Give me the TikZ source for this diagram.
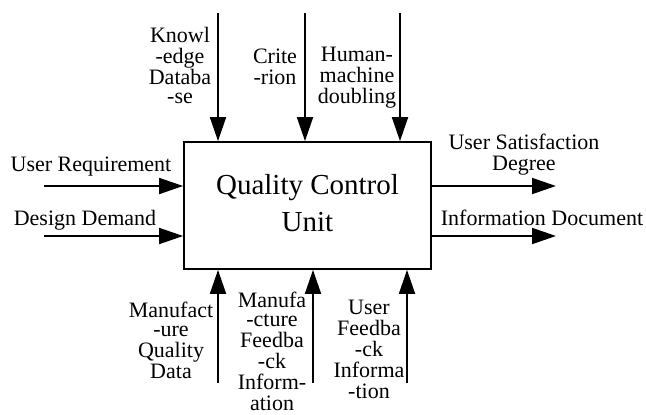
\documentclass[tikz,border=0pt]{standalone}
\usepackage{fontspec}
\setmainfont{Liberation Serif}
\usetikzlibrary{arrows.meta}

% stacked, centred lines; the node's baseline is the last line's baseline
\newcommand\stacklines[1]{\begin{tabular}[b]{@{}c@{}}#1\end{tabular}}

\tikzset{
  flow/.style={line width=1.8pt, -{Triangle[length=24pt,width=16pt]}},
  unitbox/.style={draw, line width=1.8pt, minimum width=247pt, minimum height=127pt,
    inner sep=0pt, font=\fontsize{29}{37}\selectfont},
  lbl/.style={inner sep=0pt, anchor=base, font=\fontsize{22}{19}\selectfont},
}

\begin{document}
\begin{tikzpicture}[x=1pt,y=-1pt]
\useasboundingbox (0,0) rectangle (646,415);

% central function box
\node[unitbox] (qcu) at (307.5,205.5)
  {\begin{tabular}{@{}c@{}}Quality Control\\Unit\end{tabular}};

% free ends of the connectors
\coordinate (inA)  at (44,186);
\coordinate (inB)  at (44,236);
\coordinate (outA) at (556,186);
\coordinate (outB) at (556,236);
\coordinate (ctlA) at (218,13);
\coordinate (ctlB) at (305,13);
\coordinate (ctlC) at (400,13);
\coordinate (mecA) at (218,383);
\coordinate (mecB) at (313,383);
\coordinate (mecC) at (407,383);

% inputs
\draw[flow] (inA) -- (inA -| qcu.west);
\draw[flow] (inB) -- (inB -| qcu.west);
% outputs
\draw[flow] (outA -| qcu.east) -- (outA);
\draw[flow] (outB -| qcu.east) -- (outB);
% controls
\draw[flow] (ctlA) -- (ctlA |- qcu.north);
\draw[flow] (ctlB) -- (ctlB |- qcu.north);
\draw[flow] (ctlC) -- (ctlC |- qcu.north);
% mechanisms
\draw[flow] (mecA) -- (mecA |- qcu.south);
\draw[flow] (mecB) -- (mecB |- qcu.south);
\draw[flow] (mecC) -- (mecC |- qcu.south);

% labels
\node[lbl] (tInA)  at (91,171)  {User Requirement};
\node[lbl] (tInB)  at (85,225)  {Design Demand};
\node[lbl] (tOutA) at (524,170) {\stacklines{User Satisfaction\\Degree}};
\node[lbl] (tOutB) at (542,225) {Information Document};
\node[lbl] (tCtlA) at (180,103) {\stacklines{Knowl\\-edge\\Databa\\-se}};
\node[lbl] (tCtlB) at (275,84)  {\stacklines{Crite\\-rion}};
\node[lbl] (tCtlC) at (357,103) {\stacklines{Human-\\machine\\doubling}};
\node[lbl] (tMecA) at (171,378) {\stacklines{Manufact\\-ure\\Quality\\Data}};
\node[lbl] (tMecB) at (272,410) {\stacklines{Manufa\\-cture\\Feedba\\-ck\\Inform-\\ation}};
\node[lbl] (tMecC) at (369,398) {\stacklines{User\\Feedba\\-ck\\Informa\\-tion}};
\end{tikzpicture}
\end{document}
